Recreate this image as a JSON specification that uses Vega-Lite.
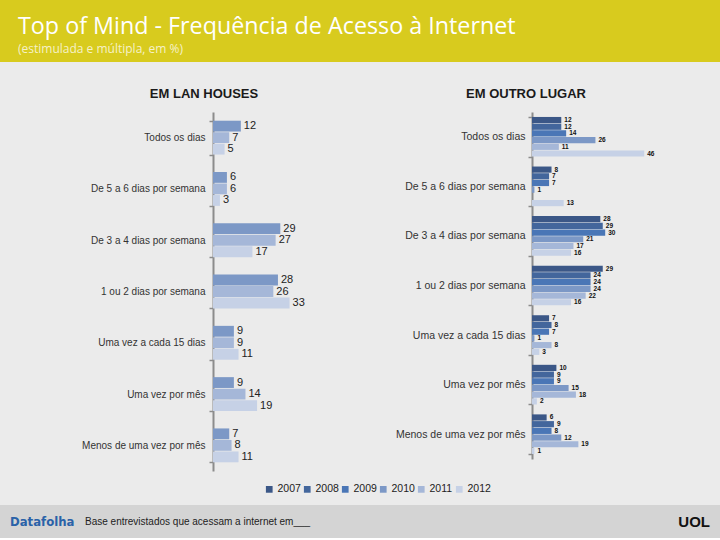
{
  "$schema": "https://vega.github.io/schema/vega-lite/v6.json",
  "padding": 0,
  "background": "#ebebeb",
  "config": {
    "view": {"stroke": null},
    "font": "Liberation Sans",
    "legend": {"labelFont": "Liberation Sans"}
  },
  "datasets": {
    "lan": [
      {"categoria": "Todos os dias", "ano": "2010", "valor": 12},
      {"categoria": "Todos os dias", "ano": "2011", "valor": 7},
      {"categoria": "Todos os dias", "ano": "2012", "valor": 5},
      {"categoria": "De 5 a 6 dias por semana", "ano": "2010", "valor": 6},
      {"categoria": "De 5 a 6 dias por semana", "ano": "2011", "valor": 6},
      {"categoria": "De 5 a 6 dias por semana", "ano": "2012", "valor": 3},
      {"categoria": "De 3 a 4 dias por semana", "ano": "2010", "valor": 29},
      {"categoria": "De 3 a 4 dias por semana", "ano": "2011", "valor": 27},
      {"categoria": "De 3 a 4 dias por semana", "ano": "2012", "valor": 17},
      {"categoria": "1 ou 2 dias por semana", "ano": "2010", "valor": 28},
      {"categoria": "1 ou 2 dias por semana", "ano": "2011", "valor": 26},
      {"categoria": "1 ou 2 dias por semana", "ano": "2012", "valor": 33},
      {"categoria": "Uma vez a cada 15 dias", "ano": "2010", "valor": 9},
      {"categoria": "Uma vez a cada 15 dias", "ano": "2011", "valor": 9},
      {"categoria": "Uma vez a cada 15 dias", "ano": "2012", "valor": 11},
      {"categoria": "Uma vez por mês", "ano": "2010", "valor": 9},
      {"categoria": "Uma vez por mês", "ano": "2011", "valor": 14},
      {"categoria": "Uma vez por mês", "ano": "2012", "valor": 19},
      {"categoria": "Menos de uma vez por mês", "ano": "2010", "valor": 7},
      {"categoria": "Menos de uma vez por mês", "ano": "2011", "valor": 8},
      {"categoria": "Menos de uma vez por mês", "ano": "2012", "valor": 11}
    ],
    "outro": [
      {"categoria": "Todos os dias", "ano": "2007", "valor": 12},
      {"categoria": "Todos os dias", "ano": "2008", "valor": 12},
      {"categoria": "Todos os dias", "ano": "2009", "valor": 14},
      {"categoria": "Todos os dias", "ano": "2010", "valor": 26},
      {"categoria": "Todos os dias", "ano": "2011", "valor": 11},
      {"categoria": "Todos os dias", "ano": "2012", "valor": 46},
      {"categoria": "De 5 a 6 dias por semana", "ano": "2007", "valor": 8},
      {"categoria": "De 5 a 6 dias por semana", "ano": "2008", "valor": 7},
      {"categoria": "De 5 a 6 dias por semana", "ano": "2009", "valor": 7},
      {"categoria": "De 5 a 6 dias por semana", "ano": "2010", "valor": 1},
      {"categoria": "De 5 a 6 dias por semana", "ano": "2012", "valor": 13},
      {"categoria": "De 3 a 4 dias por semana", "ano": "2007", "valor": 28},
      {"categoria": "De 3 a 4 dias por semana", "ano": "2008", "valor": 29},
      {"categoria": "De 3 a 4 dias por semana", "ano": "2009", "valor": 30},
      {"categoria": "De 3 a 4 dias por semana", "ano": "2010", "valor": 21},
      {"categoria": "De 3 a 4 dias por semana", "ano": "2011", "valor": 17},
      {"categoria": "De 3 a 4 dias por semana", "ano": "2012", "valor": 16},
      {"categoria": "1 ou 2 dias por semana", "ano": "2007", "valor": 29},
      {"categoria": "1 ou 2 dias por semana", "ano": "2008", "valor": 24},
      {"categoria": "1 ou 2 dias por semana", "ano": "2009", "valor": 24},
      {"categoria": "1 ou 2 dias por semana", "ano": "2010", "valor": 24},
      {"categoria": "1 ou 2 dias por semana", "ano": "2011", "valor": 22},
      {"categoria": "1 ou 2 dias por semana", "ano": "2012", "valor": 16},
      {"categoria": "Uma vez a cada 15 dias", "ano": "2007", "valor": 7},
      {"categoria": "Uma vez a cada 15 dias", "ano": "2008", "valor": 8},
      {"categoria": "Uma vez a cada 15 dias", "ano": "2009", "valor": 7},
      {"categoria": "Uma vez a cada 15 dias", "ano": "2010", "valor": 1},
      {"categoria": "Uma vez a cada 15 dias", "ano": "2011", "valor": 8},
      {"categoria": "Uma vez a cada 15 dias", "ano": "2012", "valor": 3},
      {"categoria": "Uma vez por mês", "ano": "2007", "valor": 10},
      {"categoria": "Uma vez por mês", "ano": "2008", "valor": 9},
      {"categoria": "Uma vez por mês", "ano": "2009", "valor": 9},
      {"categoria": "Uma vez por mês", "ano": "2010", "valor": 15},
      {"categoria": "Uma vez por mês", "ano": "2011", "valor": 18},
      {"categoria": "Uma vez por mês", "ano": "2012", "valor": 2},
      {"categoria": "Menos de uma vez por mês", "ano": "2007", "valor": 6},
      {"categoria": "Menos de uma vez por mês", "ano": "2008", "valor": 9},
      {"categoria": "Menos de uma vez por mês", "ano": "2009", "valor": 8},
      {"categoria": "Menos de uma vez por mês", "ano": "2010", "valor": 12},
      {"categoria": "Menos de uma vez por mês", "ano": "2011", "valor": 19},
      {"categoria": "Menos de uma vez por mês", "ano": "2012", "valor": 1}
    ],
    "logos": [
      {"marca": "Datafolha"},
      {"marca": "UOL"}
    ]
  },
  "columns": 1,
  "spacing": 0,
  "resolve": {"scale": {"color": "independent"}, "legend": {"color": "independent"}},
  "concat": [
    {
      "columns": 1,
      "spacing": 26,
      "concat": [
        {
          "width": 720,
          "height": 62,
          "view": {"fill": "#d8cb1e", "stroke": null},
          "title": {
            "text": "Top of Mind - Frequência de Acesso à Internet",
            "subtitle": "(estimulada e múltipla, em %)",
            "anchor": "start",
            "frame": "group",
            "offset": -56,
            "dx": 18,
            "font": "Open Sans",
            "fontSize": 23.3,
            "fontWeight": "normal",
            "color": "#ffffff",
            "subtitleFont": "Open Sans",
            "subtitleFontSize": 12,
            "subtitleColor": "#f6f1c8",
            "subtitlePadding": 5
          },
          "data": {"values": [{"t": ""}]},
          "mark": {"type": "text"},
          "encoding": {"text": {"field": "t", "type": "nominal"}}
        },
        {
          "spacing": 203,
          "bounds": "flush",
          "resolve": {"scale": {"y": "independent", "yOffset": "independent", "x": "independent"}},
          "hconcat": [
            {
              "width": 10,
              "height": 10,
              "data": {"values": [{"t": ""}]},
              "mark": {"type": "text"},
              "encoding": {"text": {"field": "t", "type": "nominal"}}
            },
            {
              "width": 116,
              "height": 359,
              "data": {"name": "lan"},
              "title": {"text": "EM LAN HOUSES", "anchor": "middle", "frame": "group", "dx": -67, "offset": 6, "fontSize": 13, "fontWeight": "bold", "font": "Liberation Sans", "color": "#1a1a1a"},
              "encoding": {
                "y": {
                  "field": "categoria", "type": "nominal",
                  "sort": ["Todos os dias", "De 5 a 6 dias por semana", "De 3 a 4 dias por semana", "1 ou 2 dias por semana", "Uma vez a cada 15 dias", "Uma vez por mês", "Menos de uma vez por mês"],
                  "scale": {"paddingInner": 0.34, "paddingOuter": 0.17},
                  "axis": {"title": null, "tickBand": "extent", "domainColor": "#8c8c8c", "domainWidth": 2, "tickColor": "#8c8c8c", "tickSize": 4, "tickWidth": 1.5, "labelPadding": 4, "labelFontSize": 10, "labelColor": "#333333", "labelFont": "Liberation Sans"}
                },
                "yOffset": {"field": "ano", "type": "nominal", "sort": ["2010", "2011", "2012"], "scale": {"paddingInner": 0.06}},
                "x": {"field": "valor", "type": "quantitative", "scale": {"domain": [0, 50]}, "axis": null}
              },
              "layer": [
                {
                  "mark": {"type": "bar"},
                  "encoding": {
                    "color": {
                      "field": "ano", "type": "nominal",
                      "scale": {"domain": ["2007", "2008", "2009", "2010", "2011", "2012"], "range": ["#3b5787", "#43669c", "#4a76b6", "#7c98c6", "#a5b7d8", "#c6d1e6"]},
                      "legend": {"orient": "none", "legendX": 254, "legendY": 474, "direction": "horizontal", "title": null, "symbolType": "square", "symbolSize": 45, "symbolStrokeWidth": 0, "labelFontSize": 10.5, "labelOffset": 3, "labelColor": "#222222", "columnPadding": 1, "padding": 10}
                    }
                  }
                },
                {
                  "mark": {"type": "text", "align": "left", "baseline": "middle", "dx": 3, "fontSize": 11, "color": "#222222"},
                  "encoding": {"text": {"field": "valor", "type": "quantitative"}}
                }
              ]
            },
            {
              "width": 122,
              "height": 347,
              "data": {"name": "outro"},
              "title": {"text": "EM OUTRO LUGAR", "anchor": "middle", "frame": "group", "dx": -67, "offset": 6, "fontSize": 13, "fontWeight": "bold", "font": "Liberation Sans", "color": "#1a1a1a"},
              "encoding": {
                "y": {
                  "field": "categoria", "type": "nominal",
                  "sort": ["Todos os dias", "De 5 a 6 dias por semana", "De 3 a 4 dias por semana", "1 ou 2 dias por semana", "Uma vez a cada 15 dias", "Uma vez por mês", "Menos de uma vez por mês"],
                  "scale": {"paddingInner": 0.2, "paddingOuter": 0.1},
                  "axis": {"title": null, "tickBand": "extent", "domainColor": "#8c8c8c", "domainWidth": 2, "tickColor": "#8c8c8c", "tickSize": 4, "tickWidth": 1.5, "labelPadding": 3, "labelFontSize": 10.5, "labelColor": "#333333", "labelFont": "Liberation Sans"}
                },
                "yOffset": {"field": "ano", "type": "nominal", "sort": ["2007", "2008", "2009", "2010", "2011", "2012"], "scale": {"paddingInner": 0.08}},
                "x": {"field": "valor", "type": "quantitative", "scale": {"domain": [0, 50]}, "axis": null}
              },
              "layer": [
                {
                  "mark": {"type": "bar"},
                  "encoding": {"color": {"field": "ano", "type": "nominal"}}
                },
                {
                  "mark": {"type": "text", "align": "left", "baseline": "middle", "dx": 3, "fontSize": 6.5, "fontWeight": "bold", "color": "#111111"},
                  "encoding": {"text": {"field": "valor", "type": "quantitative"}}
                }
              ]
            }
          ]
        }
      ]
    },
    {
      "width": 720,
      "height": 33,
      "view": {"fill": "#d4d4d4", "stroke": null},
      "title": {"text": "Base entrevistados que acessam a internet em___", "anchor": "start", "frame": "group", "offset": -22, "dx": 85, "fontSize": 10, "fontWeight": "normal", "font": "Liberation Sans", "color": "#222222"},
      "data": {"name": "logos"},
      "encoding": {
        "x": {"field": "marca", "type": "nominal", "scale": {"type": "point", "domain": ["Datafolha", "UOL"], "padding": 0}, "axis": null},
        "text": {"field": "marca", "type": "nominal"}
      },
      "layer": [
        {
          "transform": [{"filter": "datum.marca === 'Datafolha'"}],
          "mark": {"type": "text", "align": "left", "baseline": "middle", "dx": 10, "dy": 0, "fontSize": 13, "fontWeight": "bold", "font": "Liberation Sans Narrow, DejaVu Sans Condensed, Liberation Sans", "color": "#2a62a8"}
        },
        {
          "transform": [{"filter": "datum.marca === 'UOL'"}],
          "mark": {"type": "text", "align": "right", "baseline": "middle", "dx": -10, "dy": 0, "fontSize": 15, "fontWeight": "bold", "font": "Liberation Sans", "color": "#111111"}
        }
      ]
    }
  ]
}
